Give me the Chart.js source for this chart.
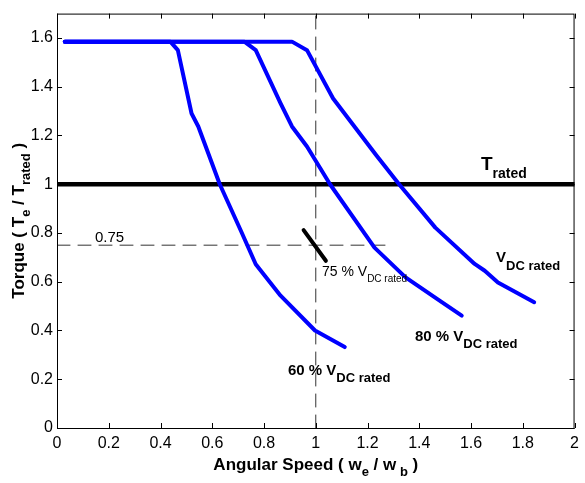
<!DOCTYPE html>
<html>
<head>
<meta charset="utf-8">
<script src="https://cdn.jsdelivr.net/npm/chart.js@4.4.0/dist/chart.umd.min.js"></script>
<style>
  html, body { margin: 0; padding: 0; background: #fff; }
  #wrap { width: 585px; height: 483px; position: relative; }
</style>
</head>
<body>
<div id="wrap"><canvas id="torque-chart" width="585" height="483"></canvas></div>
<script>
// Torque vs angular speed for different DC link voltages
const xTicks = [0, 0.2, 0.4, 0.6, 0.8, 1, 1.2, 1.4, 1.6, 1.8, 2];
const yTicks = [0, 0.2, 0.4, 0.6, 0.8, 1, 1.2, 1.4, 1.6];

const speed60 = [0.03, 0.438, 0.467, 0.52, 0.546, 0.629, 0.711, 0.768, 0.864, 0.997, 1.112];
const torque60 = [1.585, 1.585, 1.55, 1.29, 1.237, 1.0, 0.808, 0.672, 0.543, 0.40, 0.332];

const speed80 = [0.03, 0.724, 0.768, 0.864, 0.908, 0.966, 1.055, 1.227, 1.347, 1.487, 1.564];
const torque80 = [1.585, 1.585, 1.55, 1.332, 1.237, 1.155, 1.0, 0.74, 0.618, 0.516, 0.461];

const speedRated = [0.03, 0.908, 0.966, 1.067, 1.233, 1.322, 1.462, 1.614, 1.653, 1.704, 1.844];
const torqueRated = [1.585, 1.585, 1.55, 1.352, 1.12, 1.0, 0.822, 0.673, 0.645, 0.597, 0.516];

const ratedSpeed = [0, 2];
const ratedTorque = [1, 1];

const speed75 = [0.953, 1.039];
const torque75 = [0.812, 0.686];

const vGuideX = [1, 1];
const vGuideY = [0, 1.7];
const hGuideX = [0, 1.297];
const hGuideY = [0.75, 0.75];

const FONT = 'Arial, "Liberation Sans", sans-serif';

function pts(xs, ys) {
    return xs.map((x, i) => ({ x: x, y: ys[i] }));
}

function lineSet(xs, ys, color, width, dash) {
    return {
        data: pts(xs, ys),
        borderColor: color,
        borderWidth: width,
        borderDash: dash || [],
        pointRadius: 0,
        tension: 0,
        fill: false,
        borderCapStyle: 'round',
        borderJoinStyle: 'round'
    };
}

// draw text made of normal + subscript parts
function richText(ctx, parts, x, y) {
    let cx = x;
    parts.forEach(p => {
        ctx.font = (p.bold ? 'bold ' : '') + p.size + 'px ' + FONT;
        ctx.fillText(p.t, cx, y + (p.dy || 0));
        cx += ctx.measureText(p.t).width;
    });
    return cx - x;
}

function richWidth(ctx, parts) {
    let w = 0;
    parts.forEach(p => {
        ctx.font = (p.bold ? 'bold ' : '') + p.size + 'px ' + FONT;
        w += ctx.measureText(p.t).width;
    });
    return w;
}

const framePlugin = {
    id: 'frame',
    afterDraw(chart) {
        const ctx = chart.ctx;
        const a = chart.chartArea;
        const xs = chart.scales.x;
        const ys = chart.scales.y;
        ctx.save();
        ctx.strokeStyle = '#000';
        ctx.lineWidth = 1;
        ctx.strokeRect(a.left + 0.5, a.top + 0.5, a.right - a.left - 1, a.bottom - a.top);
        ctx.beginPath();
        xTicks.forEach(v => {
            const px = Math.round(xs.getPixelForValue(v)) + 0.5;
            ctx.moveTo(px, a.bottom); ctx.lineTo(px, a.bottom - 5);
            ctx.moveTo(px, a.top); ctx.lineTo(px, a.top + 5);
        });
        yTicks.forEach(v => {
            const py = Math.round(ys.getPixelForValue(v)) + 0.5;
            ctx.moveTo(a.left, py); ctx.lineTo(a.left + 5, py);
            ctx.moveTo(a.right, py); ctx.lineTo(a.right - 5, py);
        });
        ctx.stroke();

        // annotations
        ctx.fillStyle = '#000';
        ctx.textBaseline = 'alphabetic';
        ctx.textAlign = 'left';
        richText(ctx, [{ t: 'T', size: 19, bold: true }, { t: 'rated', size: 14, bold: true, dy: 8 }], 481, 170);
        richText(ctx, [{ t: 'V', size: 15, bold: true }, { t: 'DC rated', size: 13, bold: true, dy: 8 }], 496, 262);
        richText(ctx, [{ t: '80 % V', size: 15, bold: true }, { t: 'DC rated', size: 13, bold: true, dy: 7 }], 415, 341);
        richText(ctx, [{ t: '60 % V', size: 15, bold: true }, { t: 'DC rated', size: 13, bold: true, dy: 7 }], 288, 375);
        richText(ctx, [{ t: '75 % V', size: 14 }, { t: 'DC rated', size: 10, dy: 6 }], 322, 276);
        richText(ctx, [{ t: '0.75', size: 15 }], 95, 242);

        // axis titles
        const xTitle = [
            { t: 'Angular Speed ( w', size: 17, bold: true },
            { t: 'e', size: 13, bold: true, dy: 6 },
            { t: ' / w', size: 17, bold: true },
            { t: ' b', size: 13, bold: true, dy: 6 },
            { t: ' )', size: 17, bold: true }
        ];
        const cx = (a.left + a.right) / 2;
        richText(ctx, xTitle, cx - richWidth(ctx, xTitle) / 2, 470);

        const yTitle = [
            { t: 'Torque ( T', size: 17, bold: true },
            { t: 'e', size: 13, bold: true, dy: 6 },
            { t: ' / T', size: 17, bold: true },
            { t: 'rated', size: 13, bold: true, dy: 6 },
            { t: ' )', size: 17, bold: true }
        ];
        ctx.translate(24, (a.top + a.bottom) / 2);
        ctx.rotate(-Math.PI / 2);
        richText(ctx, yTitle, -richWidth(ctx, yTitle) / 2, 0);
        ctx.restore();
    }
};

const ctx = document.getElementById('torque-chart').getContext('2d');
new Chart(ctx, {
    type: 'line',
    data: {
        datasets: [
            lineSet(speed60, torque60, '#0000ff', 4),
            lineSet(speed80, torque80, '#0000ff', 4),
            lineSet(speedRated, torqueRated, '#0000ff', 4),
            lineSet(ratedSpeed, ratedTorque, '#000000', 4.5),
            lineSet(speed75, torque75, '#000000', 4),
            lineSet(vGuideX, vGuideY, '#333333', 1, [13, 8]),
            lineSet(hGuideX, hGuideY, '#333333', 1, [13, 8])
        ]
    },
    options: {
        responsive: false,
        animation: false,
        devicePixelRatio: 1,
        layout: { padding: { top: 10, right: 4, bottom: 0, left: 0 } },
        plugins: {
            legend: { display: false },
            tooltip: { enabled: false }
        },
        scales: {
            x: {
                type: 'linear',
                min: 0,
                max: 2,
                afterBuildTicks: s => { s.ticks = xTicks.map(v => ({ value: v })); },
                afterFit: s => { s.height = 55; },
                grid: { display: false, drawTicks: false },
                border: { display: false },
                ticks: {
                    color: '#000',
                    padding: 6,
                    maxRotation: 0,
                    font: { family: FONT, size: 16 },
                    callback: v => String(v)
                }
            },
            y: {
                type: 'linear',
                min: 0,
                max: 1.7,
                afterBuildTicks: s => { s.ticks = yTicks.map(v => ({ value: v })); },
                afterFit: s => { s.width = 57; },
                grid: { display: false, drawTicks: false },
                border: { display: false },
                ticks: {
                    color: '#000',
                    padding: 4,
                    font: { family: FONT, size: 16 },
                    callback: v => String(v)
                }
            }
        }
    },
    plugins: [framePlugin]
});
</script>
</body>
</html>
